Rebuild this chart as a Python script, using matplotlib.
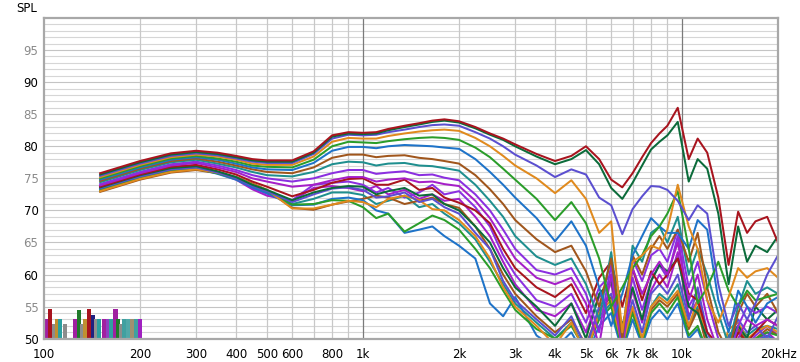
import matplotlib
matplotlib.use("Agg")
import matplotlib.pyplot as plt

# ---------------- data ----------------
freqs = [150, 200, 250, 300, 350, 400, 450, 500, 600, 700, 800, 900, 1000,
         1100, 1200, 1350, 1500, 1650, 1800, 2000, 2250, 2500, 2750, 3000,
         3500, 4000, 4500, 5000, 5500, 6000, 6500, 7000, 7500, 8000,
         8500, 9000, 9700, 10500, 11200, 12000, 13000, 14000, 15000, 16000, 17000, 18500, 20000]

spl_00 = [75.8, 77.7, 78.9, 79.3, 79.0, 78.5, 78.0, 77.8, 77.8, 79.2, 81.7, 82.2, 82.1,
          82.2, 82.7, 83.2, 83.6, 84.0, 84.2, 83.9, 83.0, 82.0, 81.2, 80.3,
          78.8, 77.7, 78.5, 80.0, 78.0, 74.8, 73.6, 75.8, 78.3, 80.5,
          82.0, 83.2, 86.0, 78.0, 81.2, 79.0, 72.0, 61.5, 69.8, 66.5, 68.3, 69.0, 65.0]
spl_01 = [75.6, 77.5, 78.7, 79.1, 78.8, 78.3, 77.8, 77.6, 77.6, 79.0, 81.5, 82.0, 81.9,
          82.0, 82.5, 83.0, 83.4, 83.8, 84.0, 83.7, 82.8, 81.8, 81.0, 80.0,
          78.4, 77.2, 78.0, 79.4, 77.2, 73.5, 71.8, 74.3, 77.0, 79.5,
          80.7, 81.7, 83.8, 74.5, 78.0, 76.5, 69.5, 58.5, 67.5, 62.0, 64.5, 63.5, 66.0]
spl_02 = [75.4, 77.3, 78.5, 78.9, 78.6, 78.1, 77.6, 77.4, 77.4, 78.8, 81.2, 81.8, 81.7,
          81.8, 82.2, 82.6, 83.0, 83.3, 83.4, 83.2, 82.2, 81.2, 80.0, 78.7,
          77.0, 75.2, 76.4, 75.6, 72.0, 70.8, 66.3, 70.2, 72.2, 73.8,
          73.7, 73.2, 71.5, 68.5, 70.8, 69.5, 58.5, 52.0, 55.5, 53.0, 55.5, 60.0, 63.0]
spl_03 = [75.2, 77.1, 78.3, 78.7, 78.4, 77.9, 77.3, 77.1, 77.1, 78.4, 80.7, 81.3, 81.2,
          81.2, 81.6, 82.0, 82.3, 82.5, 82.6, 82.4, 81.3, 80.0, 78.5, 77.0,
          75.0, 72.7, 74.7, 71.8, 66.5, 68.3, 51.0, 62.0, 63.0, 64.5,
          64.0, 67.0, 74.0, 67.5, 64.0, 56.0, 52.5, 56.5, 61.0, 59.5, 60.5, 61.0, 59.5]
spl_04 = [75.0, 76.9, 78.1, 78.5, 78.1, 77.6, 77.0, 76.8, 76.7, 77.9, 80.0, 80.7, 80.6,
          80.5, 80.8, 81.1, 81.3, 81.4, 81.3, 81.0, 79.8, 78.3, 76.5, 74.8,
          71.8, 68.5, 71.3, 68.0, 62.5, 55.0, 58.0, 61.0, 63.0, 66.0,
          67.5, 69.5, 73.0, 64.0, 55.5, 58.0, 62.0, 57.5, 55.0, 57.5, 56.0, 56.5, 57.0]
spl_05 = [74.8, 76.7, 77.9, 78.3, 77.9, 77.3, 76.7, 76.4, 76.3, 77.4, 79.3, 79.9, 79.9,
          79.7, 80.0, 80.2, 80.1, 80.0, 79.8, 79.6, 78.0, 76.0, 74.0, 72.0,
          68.8, 65.2, 68.3, 64.5, 58.0, 52.0, 57.0, 63.0, 66.0, 68.8,
          67.5, 66.5, 66.5, 64.0, 68.5, 67.0, 56.0, 51.0, 57.5, 55.0, 52.5, 55.5, 56.5]
spl_06 = [74.6, 76.5, 77.7, 78.1, 77.6, 77.0, 76.4, 76.0, 75.8, 76.7, 78.2, 78.7, 78.7,
          78.3, 78.5, 78.6, 78.2, 78.0, 77.7, 77.3, 75.5, 73.3, 71.0, 68.5,
          65.5, 63.5, 64.5, 60.5, 55.0, 62.5, 50.0, 63.0, 60.0, 64.0,
          66.0, 64.0, 67.0, 62.0, 66.5, 58.0, 51.0, 48.0, 54.0, 57.0, 55.0, 57.0, 54.0]
spl_07 = [74.4, 76.3, 77.5, 77.9, 77.3, 76.7, 76.0, 75.5, 75.3, 76.0, 77.2, 77.6, 77.5,
          77.0, 77.3, 77.4, 77.0, 76.9, 76.6, 76.2, 74.0, 71.5, 69.0, 66.0,
          62.8, 61.5, 62.5, 58.5, 53.0, 63.5, 50.0, 64.5, 62.0, 66.5,
          67.5, 65.0, 69.0, 60.0, 64.0, 60.0, 54.0, 49.0, 55.0, 59.0, 57.0, 58.0, 57.0]
spl_08 = [74.1, 76.0, 77.2, 77.6, 77.0, 76.3, 75.5, 75.0, 74.5, 75.0, 75.8, 76.3, 76.3,
          75.7, 75.9, 76.1, 75.5, 75.6, 75.1, 74.7, 72.5, 70.0, 67.0, 64.0,
          60.7, 60.0, 61.0, 57.0, 51.0, 61.5, 49.0, 62.5, 59.0, 63.0,
          64.0, 62.0, 67.0, 58.0, 62.0, 56.0, 50.0, 47.0, 52.0, 55.0, 54.0, 55.0, 54.0]
spl_09 = [73.9, 75.8, 77.0, 77.4, 76.7, 76.0, 75.0, 74.5, 73.7, 74.0, 74.7, 75.2, 75.2,
          74.5, 74.8, 75.0, 74.4, 74.5, 74.1, 73.8, 71.5, 68.8, 65.5, 62.5,
          59.5, 58.5, 59.5, 55.5, 49.0, 60.0, 48.0, 61.0, 57.0, 60.0,
          62.0, 60.0, 65.0, 56.0, 60.0, 53.0, 48.0, 46.0, 50.0, 53.0, 52.0, 53.0, 52.0]
spl_10 = [73.7, 75.6, 76.8, 77.1, 76.4, 75.6, 74.5, 73.7, 72.2, 73.2, 74.3, 74.9, 75.0,
          74.0, 74.0, 74.8, 73.2, 73.5, 72.0, 71.2, 70.0, 68.0, 64.0, 61.0,
          58.0, 56.5, 58.5, 54.0, 59.5, 62.0, 55.0, 61.0, 56.0, 60.5,
          58.5, 60.0, 62.5, 57.0, 56.0, 51.0, 49.0, 47.0, 51.0, 49.5, 51.0, 53.0, 52.0]
spl_11 = [73.6, 75.5, 76.6, 76.9, 76.1, 75.2, 74.0, 73.2, 71.6, 72.8, 73.5, 73.8, 73.7,
          72.5, 73.0, 73.5, 72.3, 72.5, 71.0, 70.0, 67.5, 65.0, 61.0, 58.0,
          55.0, 52.0, 55.5, 50.0, 57.0, 59.0, 52.0, 58.0, 53.0, 59.0,
          61.5, 60.5, 62.5, 55.0, 54.0, 50.0, 48.0, 49.0, 52.0, 50.0, 55.0, 53.0, 54.5]
spl_12 = [73.5, 75.3, 76.4, 76.7, 75.9, 75.0, 73.8, 73.0, 71.3, 72.5, 73.4, 73.6, 73.2,
          72.0, 72.2, 72.8, 71.3, 71.8, 70.5, 69.5, 66.5, 64.0, 59.0, 56.0,
          53.0, 50.5, 53.5, 48.5, 55.0, 57.0, 50.0, 56.0, 51.0, 57.0,
          58.5, 57.0, 60.0, 53.0, 58.0, 51.0, 47.0, 50.0, 53.0, 51.0, 52.0, 50.0, 53.5]
spl_13 = [73.0, 74.9, 76.0, 76.4, 75.9, 75.2, 74.1, 73.2, 70.3, 70.3, 70.9, 71.5, 71.3,
          70.5, 71.8, 72.3, 71.6, 70.2, 70.0, 68.5, 66.0, 62.5, 58.0, 55.0,
          52.0, 49.0, 52.5, 47.5, 54.0, 56.0, 49.0, 55.0, 50.0, 55.0,
          56.5, 55.5, 57.5, 52.0, 56.0, 49.5, 46.0, 51.5, 52.5, 50.0, 51.0, 52.0, 51.0]
spl_14 = [73.1, 75.0, 76.1, 76.5, 75.8, 75.0, 73.9, 73.0, 70.9, 71.0, 71.6, 71.5, 70.5,
          68.8, 69.5, 66.7, 68.0, 69.2, 68.5, 67.0, 64.0, 61.0, 57.5, 54.5,
          51.5, 50.0, 52.0, 48.0, 53.0, 55.0, 48.5, 54.0, 49.5, 54.0,
          55.5, 54.0, 56.5, 50.5, 52.0, 48.0, 46.0, 49.0, 51.0, 49.0, 50.0, 51.0, 50.5]
spl_15 = [73.3, 75.2, 76.2, 76.6, 75.7, 74.8, 73.6, 72.7, 70.8, 70.9, 71.8, 72.0, 71.6,
          70.0, 69.5, 66.5, 67.0, 67.5, 66.0, 64.5, 62.5, 55.5, 53.5, 56.5,
          50.5, 48.5, 51.0, 47.0, 52.0, 54.0, 48.0, 53.0, 49.0, 53.0,
          54.5, 53.0, 55.5, 50.0, 51.5, 47.5, 46.0, 48.0, 50.0, 48.0, 49.5, 50.5, 49.5]
spl_16 = [72.9, 74.8, 75.9, 76.3, 75.8, 75.2, 74.2, 73.2, 70.4, 70.1, 70.9, 71.4, 71.8,
          72.3, 72.0, 71.0, 71.5, 72.0, 71.0, 70.4, 67.5, 64.0, 60.0, 57.0,
          53.5, 51.0, 53.0, 49.0, 54.5, 56.5, 49.0, 54.5, 50.0, 54.5,
          56.0, 55.0, 57.0, 51.5, 54.5, 48.5, 46.5, 50.0, 51.5, 49.5, 50.0, 51.5, 50.5]
spl_17 = [73.4, 75.2, 76.3, 76.7, 75.9, 75.0, 73.9, 73.1, 71.0, 71.8, 72.8, 72.8, 72.4,
          71.0, 71.5, 72.3, 70.5, 71.0, 69.5, 68.0, 65.5, 62.0, 58.5, 55.5,
          52.5, 50.0, 52.5, 48.0, 53.5, 55.5, 48.5, 54.5, 49.5, 55.0,
          57.0, 56.0, 58.5, 52.0, 55.0, 49.0, 46.5, 50.5, 52.0, 50.5, 51.5, 52.0, 51.5]
spl_18 = [73.8, 75.6, 76.7, 77.0, 76.0, 75.0, 73.5, 72.6, 71.6, 74.0, 74.3, 74.5, 74.0,
          72.8, 73.5, 72.0, 72.8, 74.0, 72.5, 73.0, 70.5, 67.5, 63.0, 60.0,
          56.0, 55.0, 57.0, 52.5, 58.0, 60.0, 51.5, 59.5, 54.5, 59.0,
          61.5, 59.5, 66.0, 55.0, 57.5, 49.5, 47.0, 49.5, 51.0, 49.0, 50.5, 52.0, 50.5]
spl_19 = [73.6, 75.4, 76.5, 76.8, 75.8, 74.8, 73.3, 72.3, 71.5, 73.5, 73.8, 73.5, 73.0,
          73.8, 72.5, 73.2, 71.8, 72.5, 71.5, 71.8, 69.0, 66.0, 62.0, 58.5,
          54.5, 53.5, 55.5, 51.0, 56.5, 58.5, 50.5, 57.5, 52.5, 57.5,
          60.0, 58.0, 63.5, 53.5, 56.0, 48.5, 46.5, 48.5, 50.0, 48.0, 49.5, 51.0, 49.5]

curves = [spl_00, spl_01, spl_02, spl_03, spl_04, spl_05, spl_06, spl_07, spl_08, spl_09,
          spl_10, spl_11, spl_12, spl_13, spl_14, spl_15, spl_16, spl_17, spl_18, spl_19]

palette = ["#a8141e", "#0b6b3a", "#5b4fd0", "#e08a1e", "#2a9d2a",
           "#1e73c8", "#a0561c", "#1f8f8f", "#8b2fe0", "#a51fc8"]

# small trace swatch bars bottom-left
bar_freqs = [101.5, 104.5, 107.5, 110.0, 112.5, 116.5, 125.0, 129.0, 132.0, 134.5, 138.5,
             142.5, 145.5, 149.0, 154.5, 159.0, 163.0, 167.5, 171.0, 174.5, 179.0, 183.5,
             189.0, 195.0, 200.0]
bar_tops = [53.1, 54.6, 52.3, 53.1, 53.1, 52.3, 53.1, 54.5, 52.3, 53.1, 54.6,
            53.7, 53.1, 53.1, 53.1, 53.1, 53.1, 54.6, 53.1, 52.3, 53.1, 53.1,
            53.1, 53.1, 53.1]
bar_colors = ["#a020a0", "#a8141e", "#8c8c8c", "#c09030", "#2aa0a0", "#8c8c8c",
              "#a020a0", "#1f7a2a", "#8c8c8c", "#c09030", "#a8141e", "#202080",
              "#909090", "#2aa0a0", "#a020a0", "#9040c0", "#30a0a0", "#a020a0",
              "#1f7a2a", "#8c8c8c", "#40a0a0", "#50a8a8", "#a09070", "#40a0a0", "#a020c0"]

xtick_vals = [100, 200, 300, 400, 500, 600, 800, 1000, 2000, 3000, 4000, 5000,
              6000, 7000, 8000, 10000, 20000]
xtick_labels = ["100", "200", "300", "400", "500", "600", "800", "1k", "2k", "3k", "4k",
                "5k", "6k", "7k", "8k", "10k", "20kHz"]
ytick_vals = [50, 55, 60, 65, 70, 75, 80, 85, 90, 95]

# ---------------- figure ----------------
W, H = 800, 362
fig = plt.figure(figsize=(W / 100, H / 100), dpi=100)
L, R, T, B = 44, 778, 18, 338.7
ax = fig.add_axes([L / W, 1 - B / H, (R - L) / W, (B - T) / H])
ax.set_xscale("log")
ax.set_xlim(100, 20000)
ax.set_ylim(50, 100)

# grid
for y in range(51, 100):
    ax.axhline(y, color="#d6d6d6" if y % 5 else "#c4c4c4", lw=0.8, zorder=0)
vgrid = list(range(200, 1000, 100)) + list(range(2000, 10000, 1000))
for x in vgrid:
    ax.axvline(x, color="#c8c8c8", lw=0.9, zorder=0)
for x in (1000, 10000):
    ax.axvline(x, color="#7a7a7a", lw=0.9, zorder=0)

# swatch bars
for f, t, c in zip(bar_freqs, bar_tops, bar_colors):
    w = f * (10 ** 0.0068 - 10 ** -0.0068)
    ax.bar(f, t - 50, bottom=50, width=w, color=c, edgecolor="none", zorder=1)

# curves (first drawn last so it sits on top)
for i in range(len(curves) - 1, -1, -1):
    ax.plot(freqs, curves[i], color=palette[i % 10], lw=1.45, zorder=2 + (20 - i) * 0.01,
            solid_joinstyle="round")

# axes styling
for s in ax.spines.values():
    s.set_color("#a8a8a8")
    s.set_linewidth(1.6)

ax.set_xticks(xtick_vals)
ax.set_xticklabels(xtick_labels)
ax.xaxis.set_minor_locator(matplotlib.ticker.NullLocator())
ax.set_yticks(ytick_vals)
ax.set_yticklabels([str(v) for v in ytick_vals])
ax.tick_params(axis="both", length=0, labelsize=8.5)
ax.tick_params(axis="x", pad=7)
ax.tick_params(axis="y", pad=4)
for lab, v in zip(ax.get_yticklabels(), ytick_vals):
    lab.set_color("#000000" if v % 10 == 0 else "#8a8a8a")

fig.text(16 / W, 1 - 8 / H, "SPL", fontsize=8.5, ha="left", va="center")

fig.savefig("out.png", dpi=100)
